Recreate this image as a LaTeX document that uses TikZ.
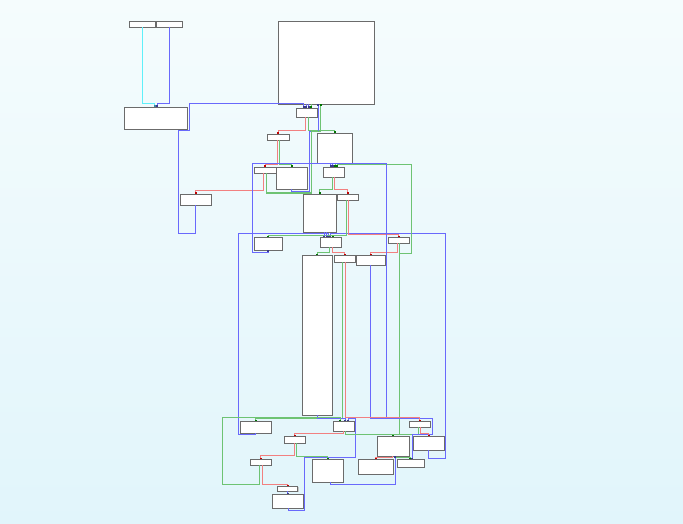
\documentclass[tikz,border=0pt]{standalone}
\usetikzlibrary{arrows.meta, shadows}
\definecolor{latatas}{RGB}{245,252,253}
\definecolor{latbawah}{RGB}{225,245,251}
\definecolor{biru}{RGB}{105,105,252}
\definecolor{merah}{RGB}{242,128,128}
\definecolor{hijau}{RGB}{110,195,115}
\definecolor{sian}{RGB}{95,240,250}

\begin{document}
\begin{tikzpicture}[
          x=1pt, y=-1pt,
          blok/.style={draw=black!58, fill=white, line width=0.9pt, inner sep=0pt, outer sep=0pt, general shadow={fill=black!22, shadow xshift=1.2pt, shadow yshift=-1.2pt}},
          kabel/.style={line width=1pt},
          kabel_biru/.style={kabel, draw=biru, -{Square[length=1.5pt, width=2pt, color=biru!55!black]}},
          kabel_merah/.style={kabel, draw=merah, -{Square[length=1.5pt, width=2pt, color=red!75!black]}},
          kabel_hijau/.style={kabel, draw=hijau, -{Square[length=1.5pt, width=2pt, color=green!45!black]}},
          kabel_sian/.style={kabel, draw=sian, -{Square[length=1.5pt, width=2pt, color=cyan!60!black]}}
      ]
          \useasboundingbox (0,0) rectangle (683,524);
          \shade[top color=latatas, bottom color=latbawah] (0,0) rectangle (683,524);

          % Blok bagian atas
          \node[blok, minimum width=26pt, minimum height=6pt] (blk1) at (142,24) {};
          \node[blok, minimum width=26pt, minimum height=6pt] (blk2) at (169,24) {};
          \node[blok, minimum width=63pt, minimum height=22pt] (blk3) at (155.5,118) {};
          \node[blok, minimum width=96pt, minimum height=83pt] (blk4) at (326,62.5) {};
          \node[blok, minimum width=21pt, minimum height=9pt] (blk5) at (306.5,112.5) {};
          \node[blok, minimum width=22pt, minimum height=6pt] (blk6) at (278,137) {};
          \node[blok, minimum width=35pt, minimum height=30pt] (blk7) at (334.5,148) {};
          \node[blok, minimum width=22pt, minimum height=6pt] (blk8) at (265,170) {};
          \node[blok, minimum width=31pt, minimum height=22pt] (blk9) at (291.5,178) {};
          \node[blok, minimum width=21pt, minimum height=10pt] (blk10) at (333.5,172) {};
          \node[blok, minimum width=31pt, minimum height=11pt] (blk11) at (195.5,199.5) {};
          \node[blok, minimum width=33pt, minimum height=38pt] (blk12) at (319.5,213) {};
          \node[blok, minimum width=21pt, minimum height=6pt] (blk13) at (347.5,197) {};

          % Blok bagian tengah
          \node[blok, minimum width=28pt, minimum height=13pt] (blk14) at (268,243.5) {};
          \node[blok, minimum width=21pt, minimum height=10pt] (blk15) at (330.5,242) {};
          \node[blok, minimum width=21pt, minimum height=6pt] (blk16) at (398.5,240) {};
          \node[blok, minimum width=30pt, minimum height=160pt] (blk17) at (317,335) {};
          \node[blok, minimum width=21pt, minimum height=7pt] (blk18) at (344.5,258.5) {};
          \node[blok, minimum width=29pt, minimum height=10pt] (blk19) at (370.5,260) {};

          % Blok bagian bawah
          \node[blok, minimum width=31pt, minimum height=12pt] (blk20) at (255.5,427) {};
          \node[blok, minimum width=21pt, minimum height=10pt] (blk21) at (343.5,426) {};
          \node[blok, minimum width=21pt, minimum height=6pt] (blk22) at (419.5,424) {};
          \node[blok, minimum width=21pt, minimum height=7pt] (blk23) at (294.5,439.5) {};
          \node[blok, minimum width=32pt, minimum height=20pt] (blk24) at (393,446) {};
          \node[blok, minimum width=31pt, minimum height=14pt] (blk25) at (428.5,443) {};
          \node[blok, minimum width=21pt, minimum height=6pt] (blk26) at (260.5,462) {};
          \node[blok, minimum width=31pt, minimum height=23pt] (blk27) at (327.5,470.5) {};
          \node[blok, minimum width=35pt, minimum height=15pt] (blk28) at (375.5,466.5) {};
          \node[blok, minimum width=27pt, minimum height=8pt] (blk29) at (410.5,463) {};
          \node[blok, minimum width=20pt, minimum height=5pt] (blk30) at (287.5,488.5) {};
          \node[blok, minimum width=31pt, minimum height=14pt] (blk31) at (287.5,501) {};

          % Kabel atas
          \draw[kabel_sian] (blk1.south) -- (142,104) -| ([xshift=-1pt]blk3.north);
          \draw[kabel_biru] (blk2.south) -- (169,104) -| ([xshift=1.5pt]blk3.north);
          \draw[kabel_biru] (blk11.south) -- (195.5,233) -| (178,131) -| (189,104) -| ([xshift=-3pt]blk5.north);
          \draw[kabel_biru] ([xshift=-20pt]blk4.south) -- ([xshift=-0.5pt]blk5.north);
          \draw[kabel_biru] ([xshift=-17.5pt]blk4.south) -- ([xshift=2pt]blk5.north);
          \draw[kabel_hijau] ([xshift=-15pt]blk4.south) -- ([xshift=4.5pt]blk5.north);
          \draw[kabel_merah] ([xshift=-1pt]blk5.south) |- (278,131) -- (blk6.north);
          \draw[kabel_hijau] ([xshift=1.5pt]blk5.south) |- (334.5,131) -- (blk7.north);
          \draw[kabel_biru] (blk9.south) -- (291.5,191.5) -| (309,131.5) -| ([xshift=-8pt]blk4.south);
          \draw[kabel_hijau] ([xshift=1pt]blk8.south) -- (266,193) -| (311.5,131.5) -| ([xshift=-5.5pt]blk4.south);
          \draw[kabel_merah] ([xshift=-1pt]blk6.south) |- (265,165) -- (blk8.north);
          \draw[kabel_hijau] ([xshift=1pt]blk6.south) |- (291.5,165) -- (blk9.north);
          \draw[kabel_merah] ([xshift=-2pt]blk8.south) |- (195.5,191) -- (blk11.north);
          \draw[kabel_biru] ([xshift=-4pt]blk7.south) -- ([xshift=-3pt]blk10.north);
          \draw[kabel_biru] ([xshift=-2pt]blk7.south) -- ([xshift=-1pt]blk10.north);
          \draw[kabel_hijau] ([xshift=0.5pt]blk7.south) -- ([xshift=1.5pt]blk10.north);
          \draw[kabel_merah] ([xshift=1pt]blk10.south) |- (347.5,190) -- (blk13.north);
          \draw[kabel_hijau] ([xshift=-1pt]blk10.south) |- (319.5,190) -- (blk12.north);

          % Kabel tengah
          \draw[kabel_biru] (blk25.south) |- (445,458) |- (330,233) -- ([xshift=-0.5pt]blk15.north);
          \draw[kabel_biru] (blk20.south) |- (238,434.5) |- (328.5,233) -- ([xshift=-2pt]blk15.north);
          \draw[kabel_merah] ([xshift=0.5pt]blk13.south) |- (398.5,234.5) -- (blk16.north);
          \draw[kabel_hijau] ([xshift=-1.5pt]blk13.south) |- (268,235) -- (blk14.north);
          \draw[kabel_hijau] ([xshift=-1.5pt]blk13.south) -- (346,235) -| ([xshift=2.5pt]blk15.north);
          \draw[kabel_biru] ([xshift=4.5pt]blk12.south) -- ([xshift=-6.5pt]blk15.north);
          \draw[kabel_biru] ([xshift=7pt]blk12.south) -- ([xshift=-4pt]blk15.north);
          \draw[kabel_merah] ([xshift=1.5pt]blk15.south) |- (344.5,252) -- (blk18.north);
          \draw[kabel_hijau] ([xshift=-1.5pt]blk15.south) |- (317,252) -- (blk17.north);
          \draw[kabel_merah] ([xshift=-1.5pt]blk16.south) |- (370.5,252) -- (blk19.north);
          \draw[kabel_hijau] ([xshift=0.5pt]blk16.south) -- (399,434) -| (blk24.north);
          \draw[kabel_hijau] ([xshift=-1.5pt]blk22.south) |- (399,434) -- (399,253) -| (411,165) -| ([xshift=3.5pt]blk10.north);
          \draw[kabel_biru] (blk19.south) |- (386,418) -- (386,164) -| (252.5,252) -| (blk14.south);
          \draw[kabel_biru] (blk19.south) |- (432,418.5) |- (412,434.5) -- ([xshift=1.5pt]blk29.north);
          \draw[kabel_hijau] ([xshift=-2pt]blk18.south) |- (255.5,418.5) -- (blk20.north);
          \draw[kabel_merah] ([xshift=0.5pt]blk18.south) |- (419.5,417) -- (blk22.north);
          \draw[kabel_biru] (blk17.south) |- (345,418) -- ([xshift=1.5pt]blk21.north);

          % Kabel bawah
          \draw[kabel_biru] ([xshift=0.5pt]blk31.south) -- (288,510) -| (304,457.5) -| (355,418) -| ([xshift=4.5pt]blk21.north);
          \draw[kabel_hijau] ([xshift=1.5pt]blk21.south) |- (393,434) -- (blk24.north);
          \draw[kabel_merah] ([xshift=-0.5pt]blk21.south) |- (294.5,433.5) -- (blk23.north);
          \draw[kabel_merah] ([xshift=0.5pt]blk22.south) |- (428.5,433.5) -- (blk25.north);
          \draw[kabel_merah] ([xshift=-0.5pt]blk23.south) |- (260.5,455.5) -- (blk26.north);
          \draw[kabel_hijau] ([xshift=1.5pt]blk23.south) |- (327.5,456.5) -- (blk27.north);
          \draw[kabel_merah] ([xshift=1.5pt]blk26.south) |- (287.5,484) -- (blk30.north);
          \draw[kabel_hijau] ([xshift=-1.5pt]blk26.south) |- (222,484.5) |- (340,417.5) -- ([xshift=-3.5pt]blk21.north);
          \draw[kabel_biru] (blk30.south) -- (blk31.north);
          \draw[kabel_merah] ([xshift=-1pt]blk24.south) |- (375.5,457) -- (blk28.north);
          \draw[kabel_hijau] ([xshift=1pt]blk24.south) |- (410,457) -- ([xshift=-0.5pt]blk29.north);
          \draw[kabel_biru] ([xshift=2.5pt]blk27.south) |- (395,484.5) -- ([xshift=2pt]blk24.south);
      \end{tikzpicture}
\end{document}
